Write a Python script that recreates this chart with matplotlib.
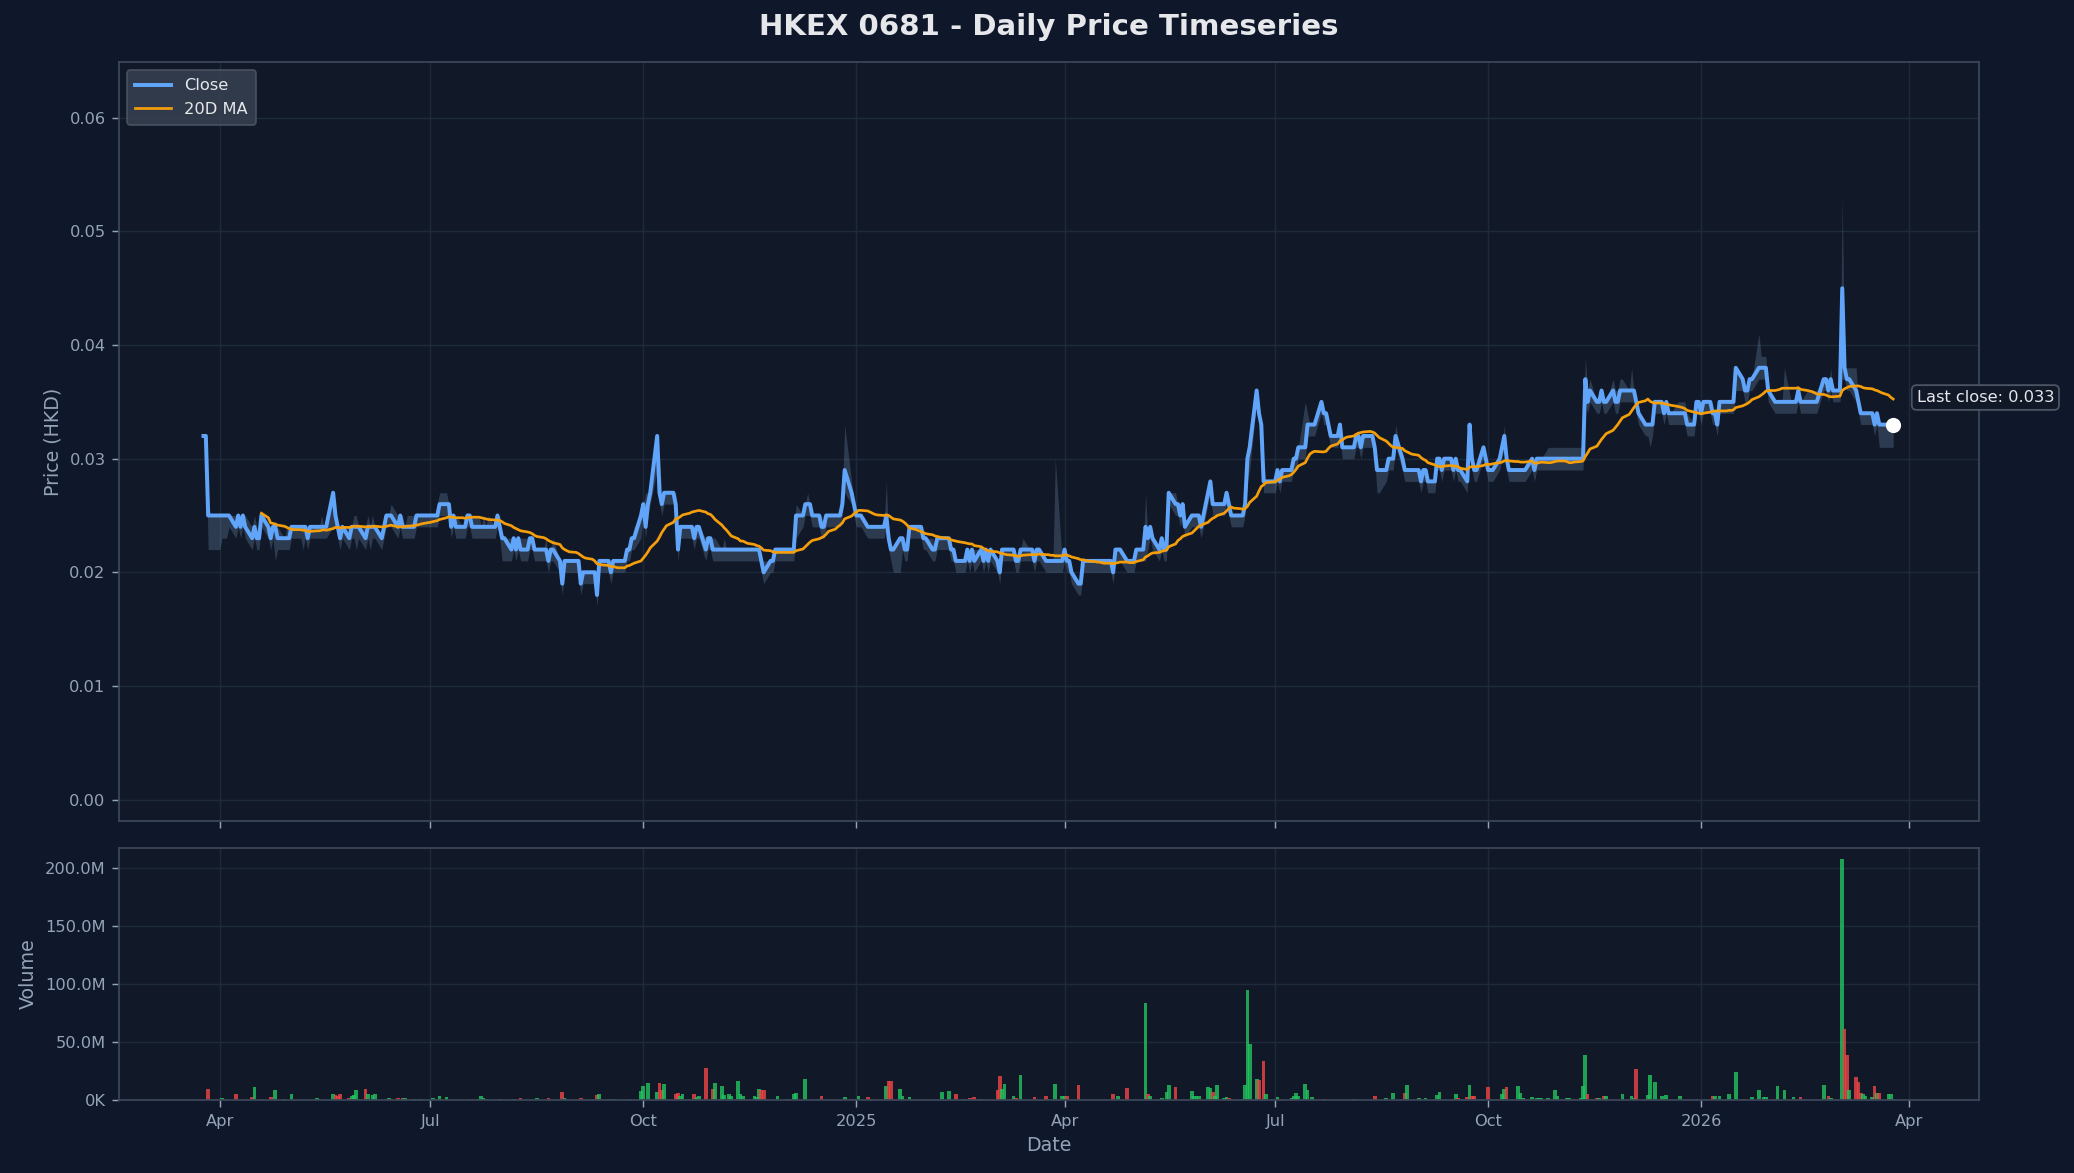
import numpy as np
import pandas as pd
import matplotlib
matplotlib.use("Agg")
import matplotlib.pyplot as plt
import matplotlib.dates as mdates
from matplotlib.ticker import FuncFormatter, MultipleLocator
from matplotlib.lines import Line2D

title = "HKEX 0681 - Daily Price Timeseries"
start_date = "2024-03-25"   # first trading day, business-day calendar

# Daily close in HKD thousandths
close_ticks = [
    32, 32, 25, 25, 25, 25, 25, 25, 25, 25, 24, 25, 24, 25, 24, 23, 24, 23, 23, 25,
    24, 23, 24, 24, 23, 23, 23, 23, 24, 24, 24, 24, 24, 23, 24, 24, 24, 24, 24, 24,
    27, 25, 24, 23, 24, 23, 24, 24, 24, 24, 23, 24, 24, 24, 24, 23, 24, 25, 25, 25,
    24, 25, 24, 24, 24, 24, 25, 25, 25, 25, 25, 25, 25, 25, 26, 26, 26, 24, 25, 24,
    24, 24, 25, 25, 24, 24, 24, 24, 24, 24, 24, 25, 24, 23, 23, 22, 23, 22, 23, 22,
    22, 23, 23, 22, 22, 22, 22, 21, 22, 22, 21, 19, 21, 21, 21, 21, 21, 19, 20, 20,
    20, 20, 18, 21, 21, 21, 20, 21, 21, 21, 21, 22, 22, 23, 23, 25, 26, 24, 26, 27,
    32, 27, 26, 27, 27, 27, 26, 22, 24, 24, 24, 24, 23, 24, 24, 22, 23, 23, 22, 22,
    22, 22, 22, 22, 22, 22, 22, 22, 22, 22, 22, 22, 22, 21, 20, 21, 21, 22, 22, 22,
    22, 22, 22, 22, 25, 25, 26, 26, 26, 25, 25, 24, 24, 25, 25, 25, 25, 25, 26, 29,
    27, 26, 25, 25, 25, 24, 24, 24, 24, 24, 24, 25, 23, 22, 22, 23, 23, 22, 22, 24,
    24, 24, 24, 23, 23, 22, 22, 23, 23, 23, 23, 22, 22, 21, 21, 21, 22, 21, 22, 21,
    22, 21, 22, 21, 22, 21, 20, 22, 22, 22, 22, 21, 21, 22, 22, 22, 22, 21, 22, 22,
    21, 21, 21, 21, 21, 21, 22, 21, 21, 20, 19, 19, 21, 21, 21, 21, 21, 21, 21, 21,
    21, 20, 22, 22, 22, 21, 21, 21, 21, 22, 22, 24, 23, 24, 23, 22, 23, 22, 22, 27,
    26, 26, 25, 26, 24, 25, 25, 25, 25, 24, 27, 28, 26, 26, 26, 26, 27, 26, 25, 25,
    25, 25, 26, 30, 31, 36, 34, 33, 28, 28, 28, 28, 29, 28, 29, 29, 29, 30, 30, 31,
    31, 33, 33, 33, 33, 35, 34, 34, 33, 32, 32, 33, 31, 31, 31, 31, 32, 32, 31, 32,
    32, 32, 31, 29, 29, 29, 30, 30, 30, 32, 30, 29, 29, 29, 29, 29, 28, 29, 29, 28,
    28, 30, 30, 29, 30, 30, 29, 30, 29, 29, 28, 33, 30, 29, 29, 31, 30, 29, 29, 29,
    30, 31, 32, 30, 29, 29, 29, 29, 29, 29, 30, 29, 30, 30, 30, 30, 30, 30, 30, 30,
    30, 30, 30, 30, 30, 30, 30, 37, 35, 36, 35, 35, 36, 35, 35, 36, 35, 35, 36, 36,
    36, 36, 36, 35, 34, 33, 33, 33, 33, 35, 35, 34, 35, 34, 34, 34, 34, 34, 34, 33,
    33, 35, 35, 34, 35, 35, 34, 34, 33, 35, 35, 35, 35, 35, 38, 37, 36, 36, 37, 37,
    38, 38, 38, 38, 36, 35, 35, 35, 35, 35, 35, 35, 35, 36, 35, 35, 35, 35, 35, 35,
    37, 37, 36, 37, 36, 36, 45, 38, 37, 37, 36, 35, 34, 34, 34, 34, 33, 34, 33, 33,
    33, 33, 33,
]

# Daily volume in millions of shares
volume_m = [
    0, 0, 10, 0, 0, 0, 2.3, 1, 0, 0, 5.8, 0, 0, 0, 0, 3, 11, 0, 0, 1,
    0, 3, 0, 9, 0, 1.5, 0, 0, 5.8, 0.5, 0, 0, 0, 0, 0, 2, 0.7, 0, 0, 0,
    5.8, 4.3, 4, 5, 0.5, 2.3, 3.5, 4.3, 9.2, 1, 9.5, 5.8, 0, 4.3, 5, 0, 0, 0, 1.7, 0,
    2, 1.5, 2, 2.3, 0, 1, 0, 0, 1.5, 0, 0, 2.3, 0, 0, 4, 2.6, 0, 0, 0.5, 0,
    0, 0, 0, 0, 1, 1.5, 3.5, 2.3, 1.5, 0, 0, 0, 1, 0, 0, 0, 1, 0, 0, 2.3,
    0, 0, 0, 0, 1.7, 0, 0, 2.3, 0, 0, 0.5, 7, 2, 0.7, 0, 0, 0, 1.7, 0, 0,
    0, 0, 4.3, 5.8, 0, 1, 0, 1.5, 0, 0, 0, 0, 1.5, 0, 0, 8, 12.4, 0, 15, 0,
    7, 15, 8.6, 14.4, 0, 0, 5, 6.6, 4, 5.8, 0.7, 0, 5.8, 3, 3.5, 28, 0, 0, 10, 15,
    12, 4.3, 0, 5.8, 3.5, 16.4, 5.8, 3.5, 0, 0, 3.5, 3, 9.5, 8.6, 8.6, 0, 0, 0, 3.5, 0,
    0.7, 0, 0, 5, 6.3, 0, 18, 0, 0, 0, 1.5, 3.5, 0.5, 0, 0, 0.5, 0, 0, 0, 2.6,
    1.5, 1, 0.3, 3.5, 0, 3, 1.5, 0, 0.5, 0, 0.5, 12, 16.4, 16.4, 0, 9.5, 3.5, 0, 0, 2.6,
    0, 0, 0, 0, 0, 0, 0, 0, 0, 7, 7.8, 0, 0, 5.8, 0, 1.5, 0, 2.3, 0, 2.6,
    1, 0, 0, 0, 0, 8.6, 20.7, 9.5, 13.8, 0, 4, 2.3, 1, 21.6, 0, 0, 0, 2.6, 0, 0,
    3.5, 1, 0, 0, 14.4, 3.5, 4, 3.5, 0, 0, 13.5, 0.5, 0, 0, 0, 0, 0, 0, 0, 0,
    0, 5.8, 0, 3.5, 0, 10.4, 0, 0, 0, 0, 0, 84, 5, 3.5, 0, 1.5, 2, 0, 7, 12.7,
    11.2, 0.5, 0, 0, 0, 7.8, 3.5, 3.5, 3.5, 0, 11.8, 10.4, 7.2, 4, 13.5, 2.3, 2.6, 2, 1, 0,
    0, 1, 13, 94.7, 48, 18, 17.3, 1, 33.7, 5, 0, 0, 2.6, 1, 0, 0, 2.3, 3.5, 6.6, 4,
    14.4, 8.6, 0, 2.6, 0, 0.5, 1.5, 0, 0, 0, 0, 0, 0, 0, 0, 1, 0.5, 0, 0, 0,
    0, 0, 4, 0.5, 0, 2, 0.5, 0, 6.6, 0, 0, 6.6, 12.7, 0, 0, 2, 0, 0, 2, 0,
    0, 4.9, 7.2, 0, 0.5, 0, 1.5, 5.8, 2, 1, 3, 13.5, 4, 4, 0, 0, 0, 11, 1.5, 0,
    0, 5.8, 10, 11, 0, 0, 12, 6.6, 2.3, 0, 3, 1.5, 2.3, 2.3, 2.3, 2.3, 0.5, 0, 8.6, 3.5,
    0, 2, 2, 0.5, 0, 2.3, 12, 38.9, 5.8, 0, 2.3, 2.3, 0, 4, 4, 0, 0.5, 0, 0, 5.8,
    0, 3.5, 2.3, 27.3, 0, 1, 4.3, 22, 1.5, 15.3, 3.5, 1, 4.3, 0, 0, 0.5, 3.5, 0, 0, 0,
    0, 1.5, 0, 0, 0.5, 0, 4, 3.5, 1, 4, 1, 5, 1, 0, 24, 1, 0, 0, 0, 2.6,
    8.6, 0, 2.6, 2.6, 0, 1, 12, 0, 0, 8.6, 0, 2.6, 0, 0, 2.6, 0, 0, 0, 0, 0.5,
    13.5, 0, 4, 2, 0, 0.5, 207, 61, 38.9, 8.6, 19.6, 15.3, 6.6, 5.8, 3.5, 2.6, 12, 6.6, 6.6, 0,
    5, 5, 1,
]

# Daily high above close / low below close, in ticks of 0.001
high_off = [
    0, 0, 2, 0, 0, 0, 0, 0, 0, 0, 1, 0, 1, 0, 1, 1, 1, 1, 0, 0,
    0, 1, 0, 0, 1, 0, 1, 1, 0, 0, 0, 0, 0, 1, 0, 0, 0, 1, 0, 1,
    0, 1, 0, 1, 0, 1, 0, 1, 1, 0, 1, 1, 0, 1, 0, 0, 1, 0, 0, 1,
    1, 0, 1, 0, 1, 1, 0, 0, 0, 0, 0, 0, 0, 1, 1, 1, 0, 1, 0, 1,
    0, 1, 0, 0, 1, 1, 0, 1, 0, 1, 0, 0, 1, 0, 0, 1, 0, 1, 0, 1,
    1, 0, 0, 0, 0, 0, 1, 0, 0, 1, 0, 2, 0, 0, 0, 0, 0, 1, 0, 0,
    0, 0, 1, 0, 0, 0, 0, 0, 0, 0, 0, 0, 0, 0, 1, 0, 0, 3, 1, 0,
    0, 3, 1, 0, 0, 0, 1, 2, 0, 0, 0, 0, 0, 0, 0, 1, 0, 0, 1, 1,
    0, 1, 0, 0, 0, 0, 0, 0, 0, 0, 0, 0, 0, 0, 1, 0, 0, 0, 0, 0,
    0, 0, 0, 1, 1, 0, 0, 1, 0, 0, 0, 1, 0, 0, 0, 0, 0, 0, 1, 4,
    1, 0, 0, 0, 0, 0, 0, 0, 0, 0, 0, 3, 0, 0, 0, 0, 0, 0, 0, 0,
    0, 0, 0, 0, 0, 1, 0, 0, 0, 0, 0, 0, 0, 0, 0, 0, 0, 1, 0, 1,
    0, 1, 0, 1, 0, 0, 1, 0, 0, 0, 0, 0, 0, 0, 1, 0, 0, 0, 0, 0,
    0, 0, 0, 0, 9, 0, 0, 0, 0, 0, 0, 0, 0, 0, 0, 0, 0, 0, 0, 0,
    0, 0, 0, 0, 0, 0, 0, 0, 0, 0, 0, 3, 0, 0, 0, 0, 0, 0, 0, 0,
    1, 0, 0, 0, 0, 0, 0, 0, 0, 0, 0, 0, 0, 0, 0, 0, 0, 0, 0, 0,
    0, 0, 0, 1, 2, 0, 1, 0, 2, 0, 0, 0, 0, 0, 0, 0, 0, 0, 0, 0,
    4, 1, 0, 0, 0, 0, 0, 0, 0, 0, 0, 0, 0, 0, 0, 0, 0, 0, 0, 0,
    0, 0, 0, 0, 0, 0, 0, 0, 0, 1, 0, 0, 0, 0, 0, 0, 0, 0, 0, 0,
    0, 0, 0, 0, 0, 0, 0, 0, 0, 0, 0, 0, 0, 0, 0, 0, 0, 0, 0, 0,
    0, 0, 1, 0, 0, 0, 0, 0, 0, 0, 0, 0, 0, 0, 0, 1, 1, 1, 1, 1,
    1, 1, 1, 1, 1, 1, 1, 2, 1, 1, 0, 0, 0, 0, 0, 1, 1, 1, 1, 1,
    0, 2, 0, 0, 0, 0, 0, 0, 0, 0, 0, 0, 0, 0, 0, 1, 1, 1, 1, 1,
    0, 0, 0, 0, 0, 0, 0, 0, 0, 0, 0, 0, 0, 0, 0, 0, 0, 0, 0, 0,
    3, 1, 1, 1, 0, 0, 0, 0, 0, 3, 0, 0, 0, 0, 0, 1, 1, 1, 1, 1,
    0, 0, 0, 1, 0, 0, 8, 0, 1, 1, 2, 0, 0, 0, 0, 0, 0, 0, 0, 0,
    0, 0, 0,
]

low_off = [
    0, 0, 3, 3, 3, 3, 2, 2, 2, 1, 1, 1, 1, 1, 1, 1, 1, 1, 1, 1,
    1, 1, 1, 3, 1, 1, 1, 1, 1, 1, 1, 2, 1, 1, 1, 1, 1, 1, 1, 1,
    3, 1, 1, 1, 1, 1, 1, 1, 2, 1, 1, 1, 2, 1, 1, 1, 1, 1, 1, 1,
    1, 1, 1, 1, 1, 1, 1, 1, 1, 1, 1, 1, 1, 1, 1, 1, 1, 1, 1, 1,
    1, 1, 1, 1, 1, 1, 1, 1, 1, 1, 1, 1, 1, 2, 2, 1, 1, 1, 1, 1,
    1, 1, 1, 1, 1, 1, 1, 1, 1, 1, 1, 1, 1, 1, 1, 1, 1, 1, 1, 1,
    1, 1, 1, 1, 1, 1, 1, 1, 1, 1, 1, 1, 1, 1, 1, 2, 1, 1, 1, 1,
    3, 1, 1, 1, 1, 1, 1, 1, 1, 1, 1, 1, 1, 1, 1, 1, 1, 1, 1, 1,
    1, 1, 1, 1, 1, 1, 1, 1, 1, 1, 1, 1, 1, 1, 1, 1, 1, 1, 1, 1,
    1, 1, 1, 1, 2, 1, 1, 1, 1, 1, 1, 1, 1, 1, 1, 1, 1, 1, 1, 2,
    1, 1, 1, 1, 1, 1, 1, 1, 1, 1, 1, 1, 1, 1, 2, 3, 1, 1, 1, 1,
    1, 1, 1, 1, 1, 1, 1, 1, 1, 1, 1, 1, 1, 1, 1, 1, 1, 1, 1, 1,
    1, 1, 1, 1, 1, 1, 1, 1, 1, 1, 1, 1, 1, 1, 1, 1, 1, 1, 1, 1,
    1, 1, 1, 1, 1, 1, 1, 1, 1, 1, 1, 1, 1, 1, 1, 1, 1, 1, 1, 1,
    1, 1, 1, 1, 1, 1, 1, 1, 1, 1, 1, 3, 1, 1, 1, 1, 1, 1, 1, 1,
    1, 1, 1, 1, 1, 1, 1, 1, 1, 1, 1, 1, 1, 1, 1, 1, 1, 1, 1, 1,
    1, 1, 1, 2, 2, 1, 1, 1, 1, 1, 1, 1, 1, 1, 1, 1, 1, 1, 1, 1,
    1, 1, 1, 1, 1, 1, 1, 1, 1, 1, 1, 1, 1, 1, 1, 1, 1, 1, 1, 1,
    1, 1, 1, 2, 2, 1, 1, 1, 1, 1, 1, 1, 1, 1, 1, 1, 1, 1, 1, 1,
    1, 1, 1, 1, 1, 1, 1, 1, 1, 1, 1, 1, 1, 1, 1, 1, 1, 1, 1, 1,
    1, 1, 1, 1, 1, 1, 1, 1, 1, 1, 1, 1, 1, 1, 1, 1, 1, 1, 1, 1,
    1, 1, 1, 1, 1, 1, 1, 2, 1, 1, 1, 1, 1, 1, 1, 1, 1, 1, 1, 1,
    1, 1, 1, 1, 1, 1, 1, 2, 1, 1, 1, 1, 1, 1, 1, 1, 1, 1, 1, 1,
    1, 1, 1, 1, 1, 1, 1, 1, 1, 1, 1, 1, 1, 1, 2, 1, 1, 1, 1, 1,
    1, 1, 1, 1, 1, 1, 1, 1, 1, 1, 1, 1, 1, 1, 1, 1, 1, 1, 1, 1,
    1, 1, 1, 1, 1, 1, 8, 1, 1, 1, 1, 1, 1, 1, 1, 1, 1, 1, 2, 2,
    2, 2, 2,
]

# ---------------------------------------------------------------- data prep
n = len(close_ticks)
dates = pd.bdate_range(start_date, periods=n)
ct = np.array(close_ticks, dtype=float)
close = ct / 1000.0
high = (ct + np.array(high_off[:n], dtype=float)) / 1000.0
low = (ct - np.array(low_off[:n], dtype=float)) / 1000.0
vol = np.array(volume_m[:n], dtype=float) * 1e6
ma20 = pd.Series(close).rolling(20).mean().values
up = np.r_[True, close[1:] >= close[:-1]]

# ---------------------------------------------------------------- style
BG = "#0f172a"
AXBG = "#111827"
SPINE = "#3b4658"
TXT = "#94a3b8"
GRID = "#1e2a3b"
BLUE = "#60a5fa"
ORANGE = "#f59e0b"

fig = plt.figure(figsize=(2074 / 130, 1173 / 130), dpi=130, facecolor=BG)
ax = fig.add_axes([0.0574, 0.300, 0.8967, 0.647])
axv = fig.add_axes([0.0574, 0.062, 0.8967, 0.2153], sharex=ax)

for a in (ax, axv):
    a.set_facecolor(AXBG)
    for s in a.spines.values():
        s.set_color(SPINE)
        s.set_linewidth(1.0)
    a.tick_params(colors=TXT, labelsize=9, length=4)
    a.grid(True, color=GRID, linewidth=0.8)
    a.set_axisbelow(True)

# price panel
ax.fill_between(dates, low, high, color="#7896be", alpha=0.28, linewidth=0, zorder=1)
ax.plot(dates, close, color=BLUE, linewidth=2.2, zorder=3, label="Close")
ax.plot(dates, ma20, color=ORANGE, linewidth=1.5, zorder=4, label="20D MA")
ax.scatter([dates[-1]], [close[-1]], s=55, color="white", zorder=6)
ax.annotate(f"Last close: {close[-1]:.3f}", xy=(dates[-1], close[-1]),
            xytext=(13, 15), textcoords="offset points", fontsize=9,
            color="#e5e7eb", va="center", ha="left", zorder=7,
            bbox=dict(boxstyle="round,pad=0.3", fc="#111827", ec="#4b5563", lw=1))

ax.set_ylim(-0.0019, 0.0649)
ax.yaxis.set_major_locator(MultipleLocator(0.01))
ax.yaxis.set_major_formatter(FuncFormatter(lambda v, p: f"{v:.2f}"))
ax.set_ylabel("Price (HKD)", color=TXT, fontsize=10.5)
ax.tick_params(axis="x", labelbottom=False)

leg = ax.legend(handles=[Line2D([], [], color=BLUE, lw=2.2),
                         Line2D([], [], color=ORANGE, lw=1.5)],
                labels=["Close", "20D MA"], loc="upper left", fontsize=9,
                facecolor="#374151", edgecolor="#4b5563", framealpha=0.85,
                handlelength=2.2, borderpad=0.5, labelspacing=0.5)
for t in leg.get_texts():
    t.set_color("#e5e7eb")

# volume panel
colors = np.where(up, "#22c55e", "#ef4444")
axv.bar(dates, vol, width=1.6, color=colors, alpha=0.8, linewidth=0, zorder=2)
axv.set_ylim(0, 217e6)
axv.yaxis.set_major_locator(MultipleLocator(50e6))


def vol_fmt(v, p):
    if v >= 1e6:
        return f"{v / 1e6:.1f}M"
    return f"{v / 1e3:.0f}K"


axv.yaxis.set_major_formatter(FuncFormatter(vol_fmt))
axv.set_ylabel("Volume", color=TXT, fontsize=10.5)
axv.set_xlabel("Date", color=TXT, fontsize=10.5)

axv.xaxis.set_major_locator(mdates.MonthLocator(bymonth=[1, 4, 7, 10]))


def date_fmt(x, p):
    d = mdates.num2date(x)
    return d.strftime("%Y") if d.month == 1 else d.strftime("%b")


axv.xaxis.set_major_formatter(FuncFormatter(date_fmt))
axv.set_xlim(pd.Timestamp("2024-02-17 12:00"), pd.Timestamp("2026-05-01"))

fig.text(0.5058, 0.977, title, ha="center", va="center", fontsize=16.2,
         fontweight="bold", color="#e5e7eb")

fig.savefig("out.png", dpi=130, facecolor=BG)
